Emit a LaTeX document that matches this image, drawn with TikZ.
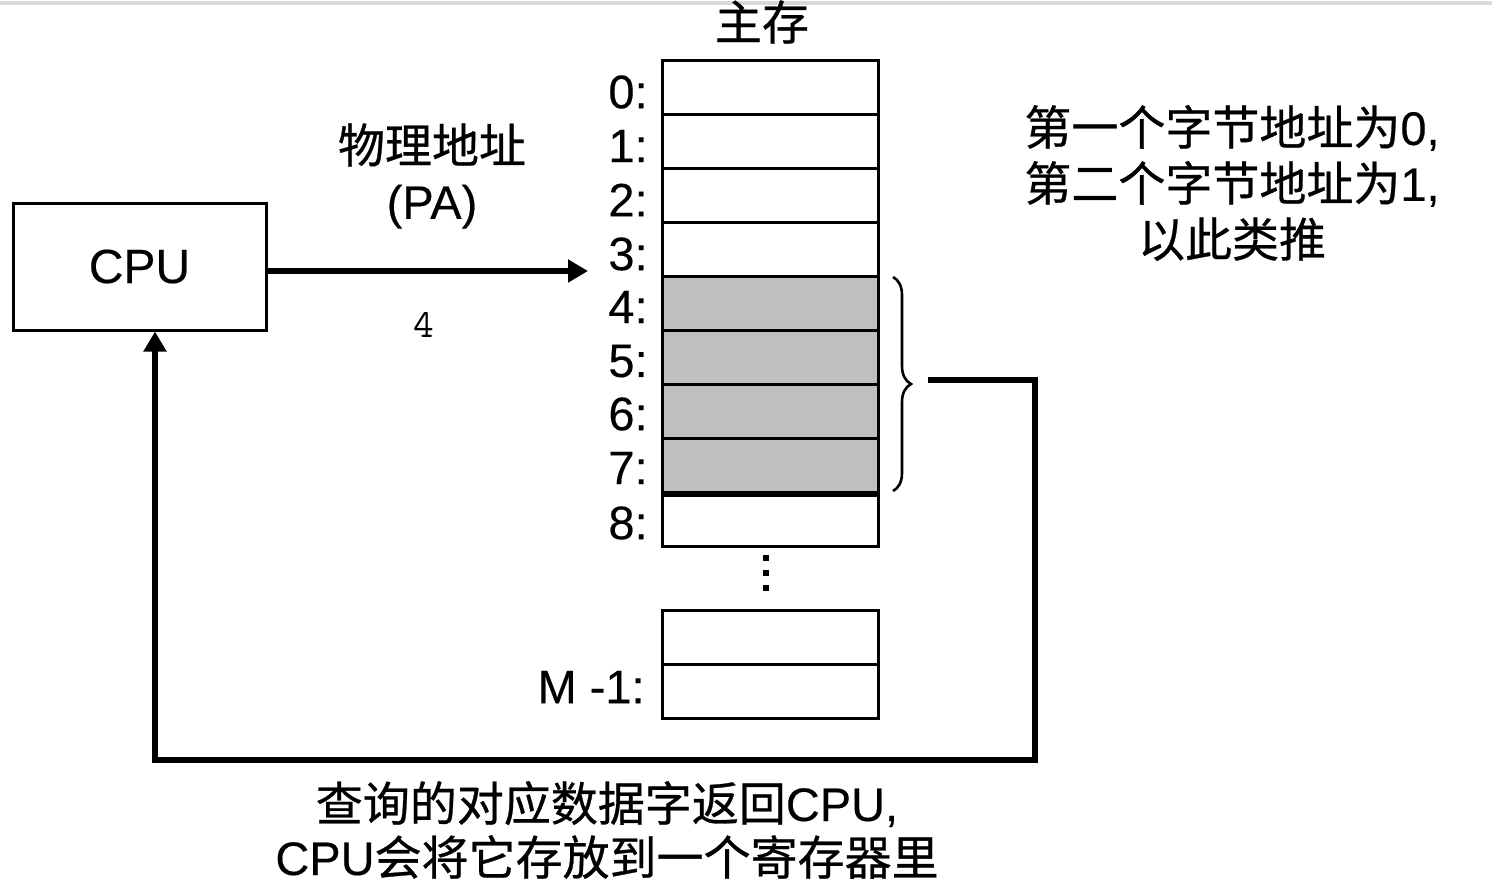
\documentclass[tikz,border=0pt]{standalone}
\usepackage{fontspec}
\newfontfamily\cjk[FakeBold=0.6]{Noto Sans CJK SC}
\newfontfamily\lat[FakeBold=0.3]{Liberation Sans}
\newcommand{\la}[1]{{\lat #1}}
\usetikzlibrary{arrows.meta,decorations.pathreplacing}
\begin{document}
\begin{tikzpicture}[x=0.5pt,y=-0.5pt,
  txt/.style={font=\cjk\fontsize{23.5}{28}\selectfont, inner sep=0pt, align=center},
  lbl/.style={font=\lat\fontsize{23.5}{28}\selectfont, inner sep=0pt, anchor=east},
  cell/.style={draw, line width=1.5pt, minimum width=108pt, minimum height=27pt, inner sep=0pt},
  gcell/.style={cell, fill=black!25},
  conn/.style={line width=2.6pt},
  tip/.style={-{Triangle[length=10pt,width=11pt]}}]
\useasboundingbox (0,0) rectangle (1492,884);
\fill[black!15] (0,1) rectangle (1492,5);
% title
\node[txt] (title) at (762,22) {主存};
% memory cells
\node[cell]  (c0) at (770,87) {};
\node[cell]  (c1) at (770,141) {};
\node[cell]  (c2) at (770,195) {};
\node[cell]  (c3) at (770,249) {};
\node[gcell] (c4) at (770,303) {};
\node[gcell] (c5) at (770,357) {};
\node[gcell] (c6) at (770,411) {};
\node[gcell] (c7) at (770,465) {};
\node[cell]  (c8) at (770,519) {};
\draw[line width=3pt] (c7.south west) -- (c7.south east);
\node[cell]  (m2) at (770,637.5) {};
\node[cell]  (m1) at (770,691.5) {};
% dots
\foreach \yy in {558,573,588} \fill (763,\yy-3) rectangle (769,\yy+3);
% labels
\node[lbl] (l0) at (648,92) {0:};
\node[lbl] (l1) at (648,146) {1:};
\node[lbl] (l2) at (648,200) {2:};
\node[lbl] (l3) at (648,254) {3:};
\node[lbl] (l4) at (648,307) {4:};
\node[lbl] (l5) at (648,361) {5:};
\node[lbl] (l6) at (648,414) {6:};
\node[lbl] (l7) at (648,468) {7:};
\node[lbl] (l8) at (648,523) {8:};
\node[lbl] (lm) at (645,687) {M -1:};
% CPU
\node[draw, line width=1.5pt, minimum width=126.5pt, minimum height=63.5pt, inner sep=0pt,
      font=\lat\fontsize{24}{28}\selectfont] (cpu) at (139.5,266.5) {CPU};
% PA arrow
\coordinate (pa) at (588,271);
\draw[conn,tip] (cpu.east |- pa) -- (pa);
\node[txt] (pal) at (432,176) {物理地址\\\la{(PA)}};
\node[font=\ttfamily\fontsize{20}{22}\selectfont, inner sep=0pt] (four) at (424,325) {4};
% brace
\draw[line width=1.3pt, decorate, decoration={brace, amplitude=9pt}] (893,277) -- (893,491);
\coordinate (ret) at (928,380);
\coordinate (r1) at (1035,380);
\coordinate (r2) at (1035,760);
\coordinate (r3) at (155,760);
\draw[conn,tip] (ret) -- (r1) -- (r2) -- (r3) -- (r3 |- cpu.south);
% notes
\node[txt] (note) at (1232,183) {第一个字节地址为\la{0,}\\第二个字节地址为\la{1,}\\以此类推};
\node[txt, font=\cjk\fontsize{23.5}{27}\selectfont] (back) at (607,830) {查询的对应数据字返回\la{CPU,}\\\la{CPU}会将它存放到一个寄存器里};
\end{tikzpicture}
\end{document}
